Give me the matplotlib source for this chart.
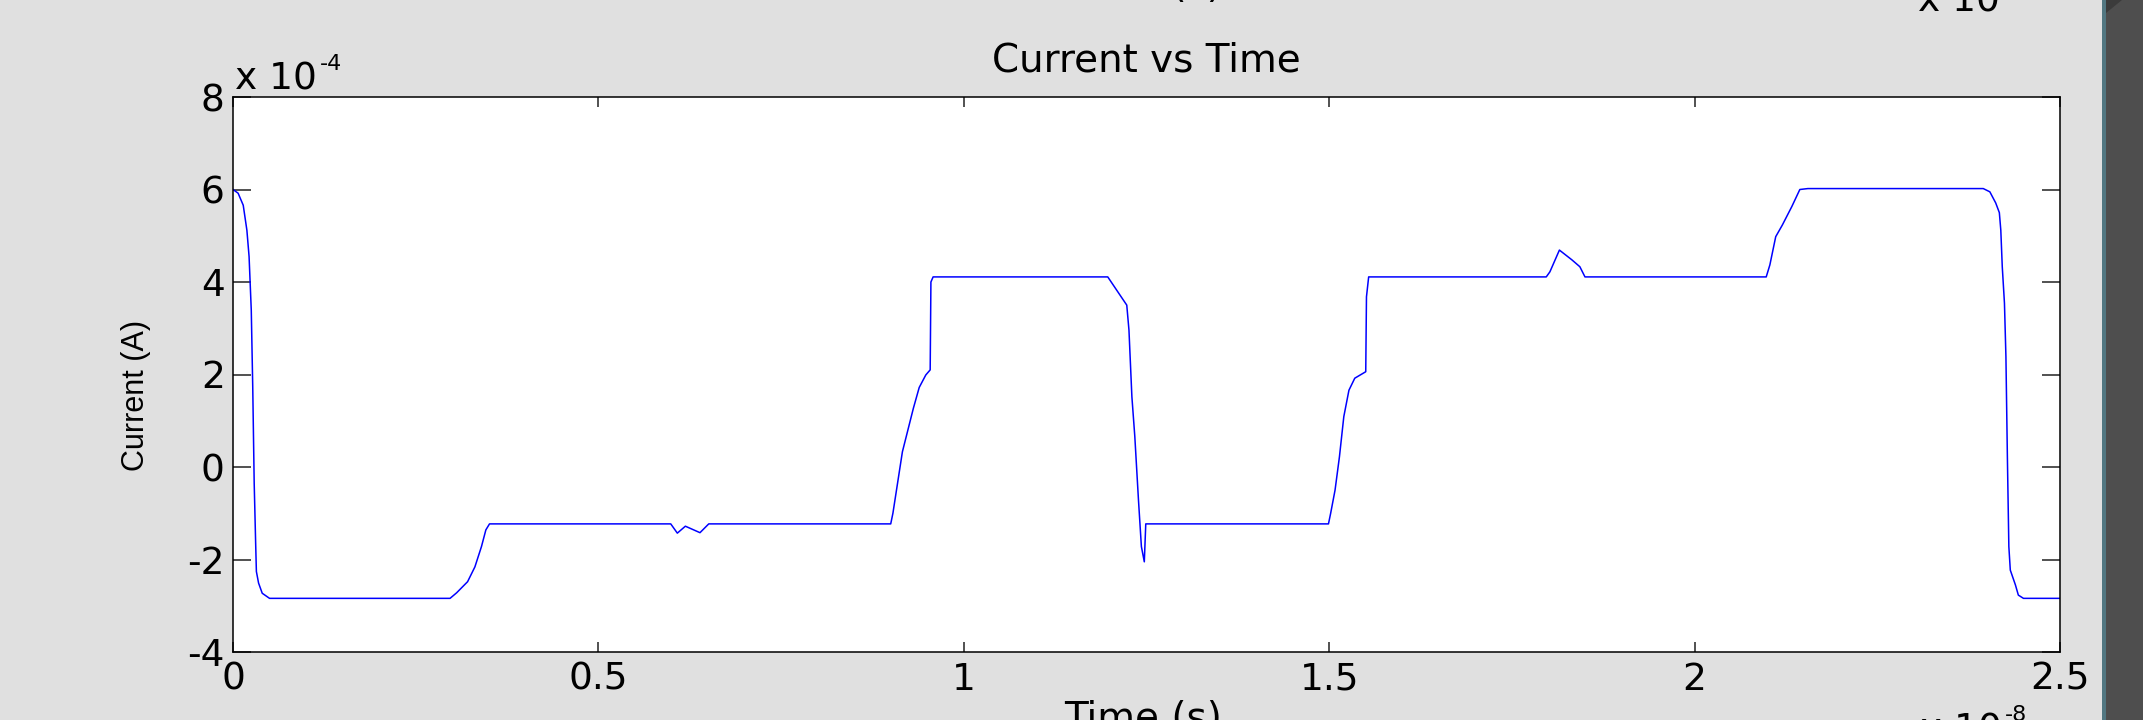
import numpy as np
import matplotlib.pyplot as plt
from matplotlib.patches import Rectangle, Polygon

plt.rcParams['axes.unicode_minus'] = False
plt.rcParams['font.family'] = ['DejaVu Sans']

# time in units of 1e-8 s, current in units of 1e-4 A
time_1e8 = [0.000, 0.007, 0.014, 0.019, 0.022, 0.025, 0.027, 0.029, 0.031, 0.032,
            0.035, 0.040, 0.050, 0.297, 0.306, 0.321, 0.331, 0.340, 0.346, 0.351,
            0.599, 0.608, 0.619, 0.639, 0.651, 0.900, 0.903, 0.916, 0.931, 0.939,
            0.948, 0.954, 0.955, 0.958, 1.197, 1.223, 1.226, 1.230, 1.234, 1.239,
            1.243, 1.247, 1.249, 1.499, 1.502, 1.508, 1.514, 1.520, 1.527, 1.535,
            1.550, 1.551, 1.554, 1.797, 1.802, 1.815, 1.832, 1.843, 1.850, 2.098,
            2.103, 2.111, 2.120, 2.133, 2.144, 2.155, 2.395, 2.404, 2.412, 2.417,
            2.419, 2.421, 2.424, 2.426, 2.428, 2.430, 2.432, 2.439, 2.443, 2.450,
            2.500]
current_1e4 = [6.00, 5.92, 5.66, 5.12, 4.55, 3.39, 1.74, -0.35, -1.65, -2.26,
               -2.51, -2.73, -2.84, -2.84, -2.72, -2.48, -2.16, -1.72, -1.36, -1.23,
               -1.23, -1.43, -1.28, -1.42, -1.23, -1.23, -1.00, 0.33, 1.27, 1.72,
               1.99, 2.10, 4.00, 4.11, 4.11, 3.50, 2.96, 1.52, 0.66, -0.71,
               -1.72, -2.05, -1.23, -1.23, -1.00, -0.50, 0.22, 1.09, 1.66, 1.92,
               2.06, 3.68, 4.11, 4.11, 4.22, 4.69, 4.48, 4.33, 4.11, 4.11,
               4.37, 4.98, 5.23, 5.63, 6.00, 6.02, 6.02, 5.95, 5.71, 5.50,
               5.12, 4.33, 3.54, 2.39, 0.22, -1.72, -2.23, -2.55, -2.77, -2.84,
               -2.84]

xticks = [0, 0.5, 1, 1.5, 2, 2.5]
xtick_labels = ['0', '0.5', '1', '1.5', '2', '2.5']
yticks = [-4, -2, 0, 2, 4, 6, 8]
ytick_labels = ['-4', '-2', '0', '2', '4', '6', '8']

W, H = 2143, 720
fig = plt.figure(figsize=(W / 100, H / 100), dpi=100, facecolor='#e0e0e0')


def fx(px):
    return px / W


def fy(py):
    return 1 - py / H


ax = fig.add_axes([fx(233), fy(652), fx(2060) - fx(233), fy(97) - fy(652)])
ax.plot(time_1e8, current_1e4, color='#0000ff', lw=1.1)
ax.set_xlim(0, 2.5)
ax.set_ylim(-4, 8)
ax.set_xticks(xticks, xtick_labels)
ax.set_yticks(yticks, ytick_labels)
ax.tick_params(direction='in', top=True, right=True, labelsize=27,
               width=1.1, color='#222222')
ax.tick_params(axis='x', length=7.2, pad=7)
ax.tick_params(axis='y', length=13, pad=6)
for s in ax.spines.values():
    s.set_linewidth(1.1)

ax.set_title('Current vs Time', fontsize=28, pad=18)
ax.set_ylabel('Current (A)', fontsize=22,
              family=['Liberation Sans Narrow', 'Liberation Sans'])
ax.yaxis.set_label_coords(-0.045, 0.463)

# exponent labels, MATLAB style
t1 = fig.text(fx(235), fy(90), 'x 10', fontsize=27, va='baseline')
ax.annotate('-4', xy=(1.0, 0.78), xycoords=t1, xytext=(2, 0),
            textcoords='offset points', fontsize=16, va='baseline',
            annotation_clip=False)
t2 = fig.text(fx(1920), fy(741), 'x 10', fontsize=27, va='baseline')
ax.annotate('-8', xy=(1.0, 0.78), xycoords=t2, xytext=(2, 0),
            textcoords='offset points', fontsize=16, va='baseline',
            annotation_clip=False)

# bottom xlabel, cut off by the screenshot edge
fig.text(fx(1143), fy(730), 'Time (s)', fontsize=28, ha='center', va='baseline')
# remnants of the upper subplot
fig.text(fx(1143), fy(-3), 'Time (s)', fontsize=28, ha='center', va='baseline')
fig.text(fx(1918), fy(12), 'x 10', fontsize=27, va='baseline')

# dark window edge on the right
fig.add_artist(Rectangle((fx(2102), 0), fx(2106) - fx(2102), 1,
                         transform=fig.transFigure, color='#527781', lw=0))
fig.add_artist(Rectangle((fx(2106), 0), 1 - fx(2106), 1,
                         transform=fig.transFigure, color='#4e4e4e', lw=0))
fig.add_artist(Polygon([(fx(2106), fy(0)), (fx(2122), fy(0)), (fx(2106), fy(13))],
                       closed=True, transform=fig.transFigure,
                       color='#3b3b3b', lw=0))

fig.savefig('out.png', dpi=100, facecolor=fig.get_facecolor())
